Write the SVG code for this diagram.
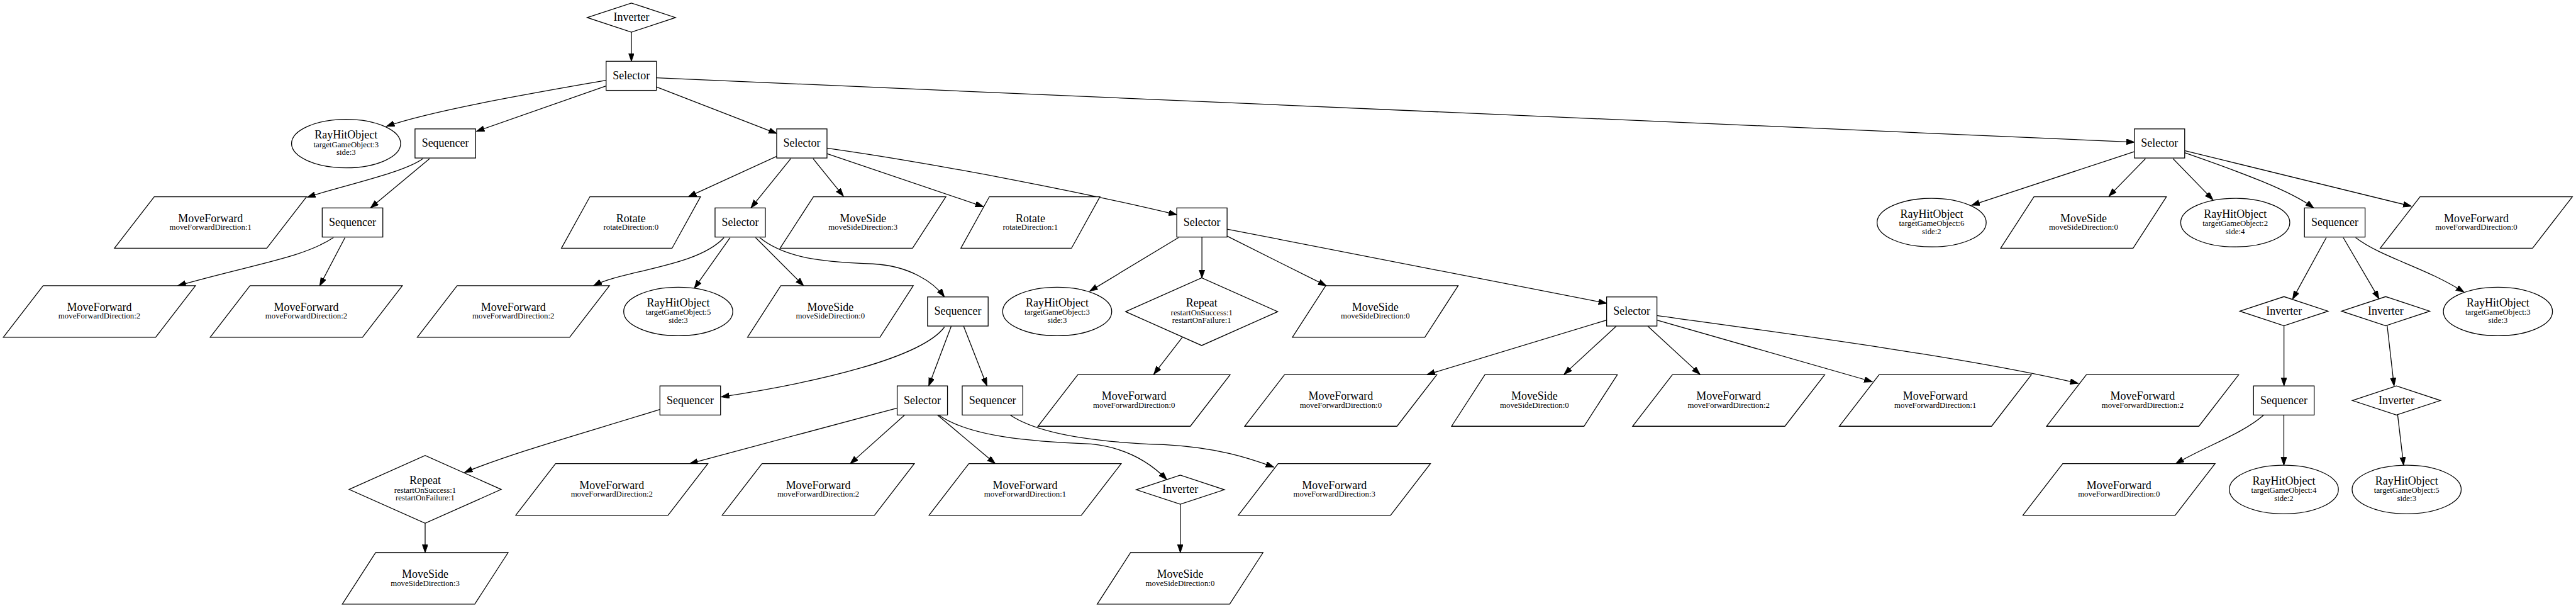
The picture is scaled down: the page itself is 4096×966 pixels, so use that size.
<svg xmlns="http://www.w3.org/2000/svg" xmlns:xlink="http://www.w3.org/1999/xlink" width="4096" height="966" viewBox="0 0 4096 966">
<style>
.e{fill:none;stroke:#000;stroke-width:1.33;marker-end:url(#a)}
text{font-family:"Liberation Serif","Times New Roman",serif;text-anchor:middle;fill:#000}
.t{font-size:18.67px}
.s{font-size:13.33px}
</style>
<defs>
<marker id="a" markerUnits="userSpaceOnUse" markerWidth="15" markerHeight="11" refX="13.3" refY="4.67" orient="auto"><path d="M0,0 L13.3,4.67 L0,9.33 z" fill="#000" stroke="#000" stroke-width="1"/></marker>
<polygon id="pMF" points="-92.8,-42.5 158.5,-42.5 92.8,42.5 -158.5,42.5" fill="#fff" stroke="#000" stroke-width="1.33"/>
<polygon id="pMS" points="-81.75,-42.5 136.75,-42.5 81.75,42.5 -136.75,42.5" fill="#fff" stroke="#000" stroke-width="1.33"/>
<polygon id="pRot" points="-67.75,-42.5 114.75,-42.5 67.75,42.5 -114.75,42.5" fill="#fff" stroke="#000" stroke-width="1.33"/>
<ellipse id="pRHO" cx="0" cy="0" rx="90" ry="40" fill="#fff" stroke="#000" stroke-width="1.33"/>
<rect id="pSel" x="-41.5" y="-24" width="83" height="48" fill="#fff" stroke="#000" stroke-width="1.33"/>
<rect id="pSeq" x="-50" y="-24" width="100" height="48" fill="#fff" stroke="#000" stroke-width="1.33"/>
<polygon id="pInv" points="-72.8,0 0,-24 72.8,0 0,24" fill="#fff" stroke="#000" stroke-width="1.33"/>
<polygon id="pRep" points="-125.5,0 0,-55.8 125.5,0 0,55.8" fill="#fff" stroke="#000" stroke-width="1.33"/>
</defs>
<rect width="4096" height="966" fill="#fff"/>
<g transform="scale(0.963765)">
<g id="edges">
<path class="e" d="M1041.7,53 L1041.7,101"/>
<path class="e" d="M999.8,132.3 C900,150 720,180 637.5,208.3"/>
<path class="e" d="M999.8,141.7 L786,216.5"/>
<path class="e" d="M1083.1,143.3 L1281.4,220"/>
<path class="e" d="M1083.1,128.3 L3521.5,234.3"/>
<path class="e" d="M697.5,261.7 C665,285 570,305 507.1,325"/>
<path class="e" d="M708.6,261.7 L611.3,342.7"/>
<path class="e" d="M550.1,391.7 C500,425 420,435 293.4,471"/>
<path class="e" d="M569.2,391.7 L527.5,471"/>
<path class="e" d="M1281.4,257.7 L1135.6,324.3"/>
<path class="e" d="M1304.5,261.7 L1238.9,342.7"/>
<path class="e" d="M1341.6,261.7 L1391.5,323.3"/>
<path class="e" d="M1364.3,253.3 L1622.4,340.7"/>
<path class="e" d="M1364.3,244.3 C1560,272 1800,320 1941.6,354"/>
<path class="e" d="M1194.5,391.7 C1150,440 1030,445 979.4,471"/>
<path class="e" d="M1204.5,391.7 L1145.6,475"/>
<path class="e" d="M1246.6,391.7 L1325.8,471"/>
<path class="e" d="M1253.4,391.7 C1300,430 1380,433 1440,435 C1500,438 1540,465 1558.1,489.3"/>
<path class="e" d="M1944.3,391.7 L1798,480"/>
<path class="e" d="M1983,391 L1983,458.3"/>
<path class="e" d="M2024.5,389.3 L2188,471"/>
<path class="e" d="M2024.5,377.7 L2650.7,500"/>
<path class="e" d="M2650.7,527.7 L2354.1,617.7"/>
<path class="e" d="M2666.6,537.7 L2580.5,617"/>
<path class="e" d="M2718.6,537.7 L2804.7,617"/>
<path class="e" d="M2733.6,527.7 L3089,629.3"/>
<path class="e" d="M2733.6,520.3 C2950,550 3250,590 3428.6,632"/>
<path class="e" d="M3521.5,250 L3252.9,338.3"/>
<path class="e" d="M3539.6,261.7 L3479.4,323.3"/>
<path class="e" d="M3585.3,261.7 L3651,329.3"/>
<path class="e" d="M3604.3,251.7 C3700,285 3780,315 3817.1,342.7"/>
<path class="e" d="M3604.3,248.3 L3978.3,340"/>
<path class="e" d="M3838,391.7 L3782.5,493"/>
<path class="e" d="M3866,391.7 L3925,492.5"/>
<path class="e" d="M3886.4,391.7 C3930,425 4000,440 4065.2,481.7"/>
<path class="e" d="M3768.2,537 L3768.2,636"/>
<path class="e" d="M3938.5,537 L3949.8,636"/>
<path class="e" d="M3955.7,683.7 L3965.6,767"/>
<path class="e" d="M3734.7,684.3 C3700,715 3640,735 3589.8,764.3"/>
<path class="e" d="M3768,684.3 L3768,767"/>
<path class="e" d="M1558.1,539.3 C1520,590 1350,630 1190,654.3"/>
<path class="e" d="M1569.4,537.7 L1532.3,636"/>
<path class="e" d="M1589.8,537.7 L1628.3,636"/>
<path class="e" d="M1088.5,675 C960,715 850,745 766.6,778.7"/>
<path class="e" d="M701.4,862.7 L701.4,911"/>
<path class="e" d="M1480.2,672.7 L1137.9,764.3"/>
<path class="e" d="M1492.4,684.3 L1402.8,764.3"/>
<path class="e" d="M1546.8,684.3 L1641.9,764.3"/>
<path class="e" d="M1549,684.3 C1600,720 1700,728 1800,732 C1860,738 1900,765 1925,790.5"/>
<path class="e" d="M1666.8,684.3 C1720,720 1830,730 1920,733 C2010,738 2060,755 2101.5,770"/>
<path class="e" d="M1947.3,831 L1947.3,911"/>
<path class="e" d="M1950.7,556 L1903.6,617"/>
</g>
<g id="n0" transform="translate(1041.7,29)"><use xlink:href="#pInv"/><text class="t" y="5.5">Inverter</text></g>
<g id="n1" transform="translate(1041.5,125)"><use xlink:href="#pSel"/><text class="t" y="5.5">Selector</text></g>
<g id="n2" transform="translate(571,236.7)"><use xlink:href="#pRHO"/><text class="t" y="-8.4">RayHitObject</text><text class="s" y="5.6">targetGameObject:3</text><text class="s" y="19">side:3</text></g>
<g id="n3" transform="translate(734.7,236.5)"><use xlink:href="#pSeq"/><text class="t" y="5.5">Sequencer</text></g>
<g id="n4" transform="translate(1322.9,236.5)"><use xlink:href="#pSel"/><text class="t" y="5.5">Selector</text></g>
<g id="n5" transform="translate(3562.9,236.5)"><use xlink:href="#pSel"/><text class="t" y="5.5">Selector</text></g>
<g id="n6" transform="translate(347.3,366.8)"><use xlink:href="#pMF"/><text class="t" y="-1">MoveForward</text><text class="s" y="12">moveForwardDirection:1</text></g>
<g id="n7" transform="translate(581.6,366.8)"><use xlink:href="#pSeq"/><text class="t" y="5.5">Sequencer</text></g>
<g id="n8" transform="translate(1041,366.8)"><use xlink:href="#pRot"/><text class="t" y="-1">Rotate</text><text class="s" y="12">rotateDirection:0</text></g>
<g id="n9" transform="translate(1221.2,366.8)"><use xlink:href="#pSel"/><text class="t" y="5.5">Selector</text></g>
<g id="n10" transform="translate(1423.8,366.8)"><use xlink:href="#pMS"/><text class="t" y="-1">MoveSide</text><text class="s" y="12">moveSideDirection:3</text></g>
<g id="n11" transform="translate(1700,366.8)"><use xlink:href="#pRot"/><text class="t" y="-1">Rotate</text><text class="s" y="12">rotateDirection:1</text></g>
<g id="n12" transform="translate(1983,366.8)"><use xlink:href="#pSel"/><text class="t" y="5.5">Selector</text></g>
<g id="n13" transform="translate(3186.9,367)"><use xlink:href="#pRHO"/><text class="t" y="-8.4">RayHitObject</text><text class="s" y="5.6">targetGameObject:6</text><text class="s" y="19">side:2</text></g>
<g id="n14" transform="translate(3437.5,366.8)"><use xlink:href="#pMS"/><text class="t" y="-1">MoveSide</text><text class="s" y="12">moveSideDirection:0</text></g>
<g id="n15" transform="translate(3687.8,367)"><use xlink:href="#pRHO"/><text class="t" y="-8.4">RayHitObject</text><text class="s" y="5.6">targetGameObject:2</text><text class="s" y="19">side:4</text></g>
<g id="n16" transform="translate(3852,366.8)"><use xlink:href="#pSeq"/><text class="t" y="5.5">Sequencer</text></g>
<g id="n17" transform="translate(4085.5,366.8)"><use xlink:href="#pMF"/><text class="t" y="-1">MoveForward</text><text class="s" y="12">moveForwardDirection:0</text></g>
<g id="n18" transform="translate(164,513.5)"><use xlink:href="#pMF"/><text class="t" y="-1">MoveForward</text><text class="s" y="12">moveForwardDirection:2</text></g>
<g id="n19" transform="translate(505.3,513.5)"><use xlink:href="#pMF"/><text class="t" y="-1">MoveForward</text><text class="s" y="12">moveForwardDirection:2</text></g>
<g id="n20" transform="translate(847,513.5)"><use xlink:href="#pMF"/><text class="t" y="-1">MoveForward</text><text class="s" y="12">moveForwardDirection:2</text></g>
<g id="n21" transform="translate(1119,513.5)"><use xlink:href="#pRHO"/><text class="t" y="-8.4">RayHitObject</text><text class="s" y="5.6">targetGameObject:5</text><text class="s" y="19">side:3</text></g>
<g id="n22" transform="translate(1370,513.5)"><use xlink:href="#pMS"/><text class="t" y="-1">MoveSide</text><text class="s" y="12">moveSideDirection:0</text></g>
<g id="n23" transform="translate(1580.3,513.5)"><use xlink:href="#pSeq"/><text class="t" y="5.5">Sequencer</text></g>
<g id="n24" transform="translate(1744.2,513.5)"><use xlink:href="#pRHO"/><text class="t" y="-8.4">RayHitObject</text><text class="s" y="5.6">targetGameObject:3</text><text class="s" y="19">side:3</text></g>
<g id="n25" transform="translate(1982.6,513.8)"><use xlink:href="#pRep"/><text class="t" y="-9">Repeat</text><text class="s" y="6">restartOnSuccess:1</text><text class="s" y="18.5">restartOnFailure:1</text></g>
<g id="n26" transform="translate(2269,513.5)"><use xlink:href="#pMS"/><text class="t" y="-1">MoveSide</text><text class="s" y="12">moveSideDirection:0</text></g>
<g id="n27" transform="translate(2692.2,513.5)"><use xlink:href="#pSel"/><text class="t" y="5.5">Selector</text></g>
<g id="n28" transform="translate(3768.2,513)"><use xlink:href="#pInv"/><text class="t" y="5.5">Inverter</text></g>
<g id="n29" transform="translate(3936,513)"><use xlink:href="#pInv"/><text class="t" y="5.5">Inverter</text></g>
<g id="n30" transform="translate(4121.2,513.5)"><use xlink:href="#pRHO"/><text class="t" y="-8.4">RayHitObject</text><text class="s" y="5.6">targetGameObject:3</text><text class="s" y="19">side:3</text></g>
<g id="n31" transform="translate(1138.8,660.2)"><use xlink:href="#pSeq"/><text class="t" y="5.5">Sequencer</text></g>
<g id="n32" transform="translate(1521.7,660.2)"><use xlink:href="#pSel"/><text class="t" y="5.5">Selector</text></g>
<g id="n33" transform="translate(1637.5,660.2)"><use xlink:href="#pSeq"/><text class="t" y="5.5">Sequencer</text></g>
<g id="n34" transform="translate(1871,660.2)"><use xlink:href="#pMF"/><text class="t" y="-1">MoveForward</text><text class="s" y="12">moveForwardDirection:0</text></g>
<g id="n35" transform="translate(2212,660.2)"><use xlink:href="#pMF"/><text class="t" y="-1">MoveForward</text><text class="s" y="12">moveForwardDirection:0</text></g>
<g id="n36" transform="translate(2531.6,660.2)"><use xlink:href="#pMS"/><text class="t" y="-1">MoveSide</text><text class="s" y="12">moveSideDirection:0</text></g>
<g id="n37" transform="translate(2852,660.2)"><use xlink:href="#pMF"/><text class="t" y="-1">MoveForward</text><text class="s" y="12">moveForwardDirection:2</text></g>
<g id="n38" transform="translate(3193,660.2)"><use xlink:href="#pMF"/><text class="t" y="-1">MoveForward</text><text class="s" y="12">moveForwardDirection:1</text></g>
<g id="n39" transform="translate(3535,660.2)"><use xlink:href="#pMF"/><text class="t" y="-1">MoveForward</text><text class="s" y="12">moveForwardDirection:2</text></g>
<g id="n40" transform="translate(3768,660.2)"><use xlink:href="#pSeq"/><text class="t" y="5.5">Sequencer</text></g>
<g id="n41" transform="translate(3953.7,660.2)"><use xlink:href="#pInv"/><text class="t" y="5.5">Inverter</text></g>
<g id="n42" transform="translate(701.4,806.8)"><use xlink:href="#pRep"/><text class="t" y="-9">Repeat</text><text class="s" y="6">restartOnSuccess:1</text><text class="s" y="18.5">restartOnFailure:1</text></g>
<g id="n43" transform="translate(1009.4,806.8)"><use xlink:href="#pMF"/><text class="t" y="-1">MoveForward</text><text class="s" y="12">moveForwardDirection:2</text></g>
<g id="n44" transform="translate(1350,806.8)"><use xlink:href="#pMF"/><text class="t" y="-1">MoveForward</text><text class="s" y="12">moveForwardDirection:2</text></g>
<g id="n45" transform="translate(1691.3,806.8)"><use xlink:href="#pMF"/><text class="t" y="-1">MoveForward</text><text class="s" y="12">moveForwardDirection:1</text></g>
<g id="n46" transform="translate(1947.3,807.3)"><use xlink:href="#pInv"/><text class="t" y="5.5">Inverter</text></g>
<g id="n47" transform="translate(2201.5,806.8)"><use xlink:href="#pMF"/><text class="t" y="-1">MoveForward</text><text class="s" y="12">moveForwardDirection:3</text></g>
<g id="n48" transform="translate(3496,806.8)"><use xlink:href="#pMF"/><text class="t" y="-1">MoveForward</text><text class="s" y="12">moveForwardDirection:0</text></g>
<g id="n49" transform="translate(3768,807)"><use xlink:href="#pRHO"/><text class="t" y="-8.4">RayHitObject</text><text class="s" y="5.6">targetGameObject:4</text><text class="s" y="19">side:2</text></g>
<g id="n50" transform="translate(3970.6,807)"><use xlink:href="#pRHO"/><text class="t" y="-8.4">RayHitObject</text><text class="s" y="5.6">targetGameObject:5</text><text class="s" y="19">side:3</text></g>
<g id="n51" transform="translate(701.5,953.5)"><use xlink:href="#pMS"/><text class="t" y="-1">MoveSide</text><text class="s" y="12">moveSideDirection:3</text></g>
<g id="n52" transform="translate(1947,953.5)"><use xlink:href="#pMS"/><text class="t" y="-1">MoveSide</text><text class="s" y="12">moveSideDirection:0</text></g>
</g>
</svg>
